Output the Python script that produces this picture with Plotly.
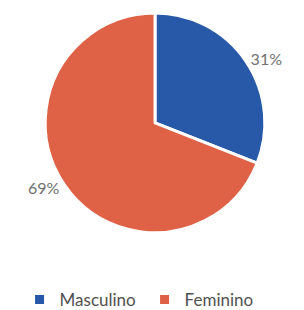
import plotly.graph_objects as go

categories = ["Masculino", "Feminino"]
values = [31, 69]
colors = ["#2759a8", "#df6146"]

fig = go.Figure(go.Pie(
    labels=categories,
    values=values,
    sort=False,
    direction="clockwise",
    rotation=0,
    marker=dict(colors=colors, line=dict(color="white", width=3)),
    textinfo="percent",
    textposition="outside",
    texttemplate="%{percent:.0%}",
    textfont=dict(family="Lato", size=16, color="#707070"),
    hoverinfo="skip",
    domain=dict(x=[0.082, 0.868], y=[0.268, 1.0]),
))

fig.update_layout(
    width=304, height=310,
    margin=dict(l=0, r=0, t=0, b=0),
    paper_bgcolor="white",
    showlegend=True,
    legend=dict(orientation="h", x=0.44, xanchor="center", y=0.042, yanchor="middle",
                font=dict(family="Lato", size=17, color="#505050"),
                entrywidth=80, entrywidthmode="pixels"),
)

fig.write_html("out.html")
